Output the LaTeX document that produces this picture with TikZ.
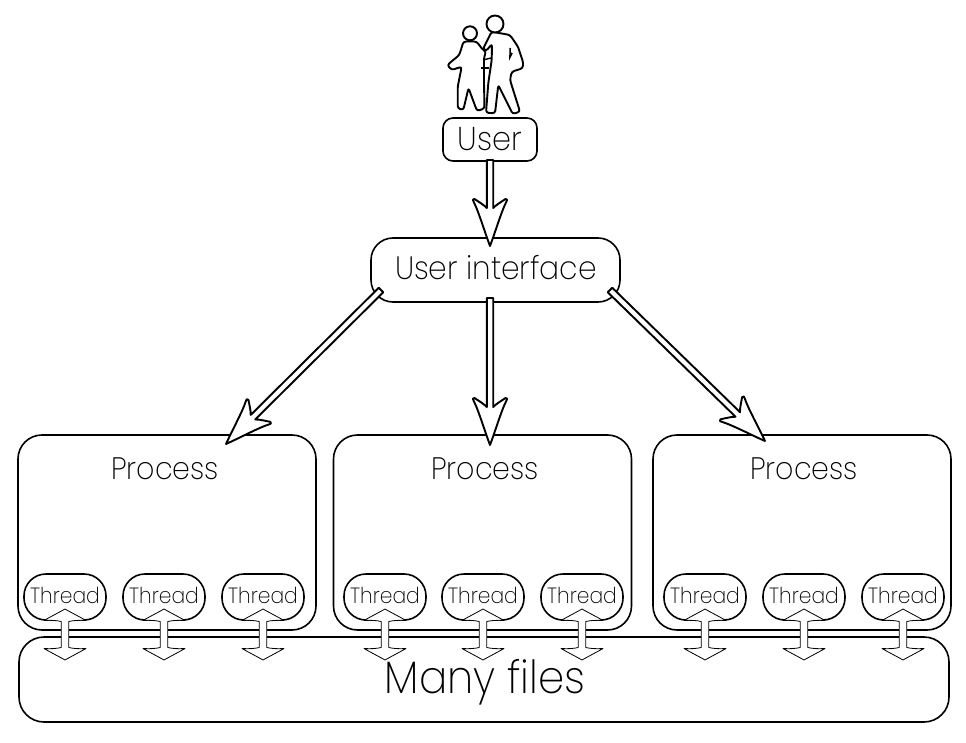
\documentclass[tikz,border=0pt]{standalone}
\usepackage{fontspec}
\setmainfont[FakeStretch=0.92]{Poppins ExtraLight}
\usetikzlibrary{calc}
\tikzset{
 box/.style={draw,line width=1.6pt,fill=white,rounded corners=#1,inner sep=0pt},
 threadbox/.style={box=22pt,minimum width=82pt,minimum height=46pt},
 threadtext/.style={font=\fontsize{22}{22}\selectfont},
 procbox/.style={box=24pt,minimum width=298pt,minimum height=195pt},
 biglabel/.style={font=\fontsize{31}{31}\selectfont},
 fatline/.style={draw,fill=white,line width=1.9pt,line join=round},
 thinline/.style={draw,fill=white,line width=.8pt,line join=round},
 figure/.style={draw,fill=white,line width=1.9pt,line join=round,rounded corners=2.5pt}
}
\newcommand\getdir[2]{\path let \p1=($(#2)-(#1)$),\n1={atan2(\y1,\x1)},\n2={veclen(\x1,\y1)} in \pgfextra{\xdef\myang{\n1}\xdef\mylen{\n2}};}
\newcommand\fatarrow[2]{\getdir{#1}{#2}
 \begin{scope}[shift={(#1)},rotate=\myang,x=1pt,y=1pt]
 \pgfmathsetmacro\L{\mylen}
 \draw[fatline] (0,-3.2) -- (\L-38,-3.2) .. controls (\L-41,-6) and (\L-44,-11) .. (\L-47,-15.5)
   .. controls (\L-47.5,-17.5) and (\L-45.5,-17.5) .. (\L-44.5,-16.5)
   .. controls (\L-35,-11.5) and (\L-13,-5) .. (\L,0)
   .. controls (\L-13,5) and (\L-35,11.5) .. (\L-44.5,16.5)
   .. controls (\L-45.5,17.5) and (\L-47.5,17.5) .. (\L-47,15.5)
   .. controls (\L-44,11) and (\L-41,6) .. (\L-38,3.2) -- (0,3.2) -- cycle;
 \end{scope}}
\newcommand\threadarrow[2]{\getdir{#1}{#2}
 \begin{scope}[shift={(#1)},rotate=\myang,x=1pt,y=1pt]
 \pgfmathsetmacro\L{\mylen}
 \draw[thinline] (0,0) .. controls (4,-7) and (8,-15) .. (11.5,-21) .. controls (11,-14) and (11.5,-8) .. (12.5,-3.8)
   -- (\L-12.5,-3.8) .. controls (\L-11.5,-8) and (\L-11,-14) .. (\L-11.5,-21)
   .. controls (\L-8,-15) and (\L-4,-7) .. (\L,0)
   .. controls (\L-4,7) and (\L-8,15) .. (\L-11.5,21)
   .. controls (\L-11,14) and (\L-11.5,8) .. (\L-12.5,3.8) -- (12.5,3.8)
   .. controls (11.5,8) and (11,14) .. (11.5,21) .. controls (8,15) and (4,7) .. (0,0) -- cycle;
 \end{scope}}
\begin{document}
\begin{tikzpicture}[x=1pt,y=-1pt]
\useasboundingbox (0,0) rectangle (966,743);
% child
\draw[figure] (463.5,41.5) -- (476.5,41.5) -- (483,50) -- (486,51) -- (484,58) -- (484,83) -- (484.5,108.5) -- (477,111) -- (468.5,88) -- (463.3,110) -- (457.7,108.3) -- (457.7,86.7) -- (461.7,66.7) -- (451.7,70) -- (447.3,65) -- (459.3,55) -- cycle;
\draw[line width=1.4pt] (483,60) -- (491,58);
\draw[line width=1.4pt] (481,68) -- (489,68);
% adult
\draw[figure] (491.7,31.7) -- (510,35) -- (518,46.7) -- (523.3,63) -- (522.7,68.3) -- (511.7,71.7) -- (510,80) -- (520,111.7) -- (512.7,114) -- (498.3,85) -- (495,113.3) -- (486,112.7) -- (488.3,83) -- (491.7,60) -- (492,44) -- (486,51) -- (483,49) -- cycle;
\draw[line width=1.6pt] (510.2,48) -- (510,57) -- (512,53);
\node[draw,fill=white,circle,line width=1.9pt,minimum size=17pt,inner sep=0pt] (adulthead) at (495,24) {};
\node[draw,fill=white,circle,line width=1.9pt,minimum size=14pt,inner sep=0pt] (childhead) at (470,33.3) {};
% boxes
\node[box=10pt,minimum width=94pt,minimum height=43pt,font=\fontsize{33}{33}\selectfont] (user) at (490,139.5) {User};
\node[box=22pt,minimum width=249pt,minimum height=64pt] (ui) at (495.5,270) {};
\node[font=\fontsize{32.3}{32.3}\selectfont] (uit) at (496,268) {User interface};
\node[procbox] (p1) at (167,532.5) {};
\node[procbox] (p2) at (482.5,532.5) {};
\node[procbox] (p3) at (802,532.5) {};
\node[biglabel] (p1t) at (165,469) {Process};
\node[biglabel] (p2t) at (485,469) {Process};
\node[biglabel] (p3t) at (804,469) {Process};
\node[box=25pt,minimum width=930pt,minimum height=85pt] (files) at (484,679.5) {};
\node[font=\fontsize{45.6}{45.6}\selectfont] (filest) at (485,682) {Many files};
\foreach \i/\x in {1/65,2/164,3/263,4/385,5/483,6/582,7/705,8/804,9/903}{
 \node[threadbox] (t\i) at (\x,597) {};
 \node[threadtext] (tt\i) at (\x,595.5) {Thread};
 \coordinate (ta\i) at (\x,609);
 \coordinate (tb\i) at (\x,660);
 \threadarrow{ta\i}{tb\i}
}
% main arrows
\coordinate (u1) at (490,160);
\coordinate (u2) at (490,246);
\fatarrow{u1}{u2}
\coordinate (l1) at (381,290);
\coordinate (l2) at (226,444);
\coordinate (c1) at (490,298);
\coordinate (c2) at (490,445);
\coordinate (r1) at (610,290);
\coordinate (r2) at (765,441);
\fatarrow{l1}{l2}
\fatarrow{c1}{c2}
\fatarrow{r1}{r2}
\end{tikzpicture}
\end{document}
